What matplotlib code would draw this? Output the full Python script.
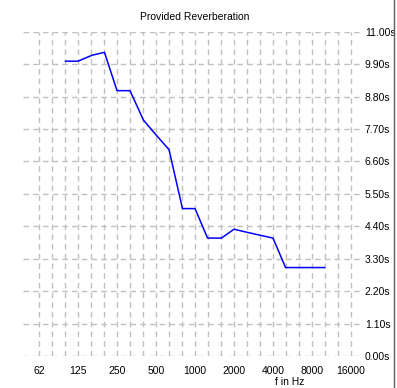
import matplotlib
matplotlib.use("Agg")
import matplotlib.pyplot as plt
from matplotlib.ticker import FixedLocator, FixedFormatter, NullFormatter
from matplotlib.lines import Line2D

# third-octave bands and reverberation time (s)
freqs = [100, 125, 160, 200, 250, 315, 400, 500, 630, 800, 1000, 1250,
         1600, 2000, 2500, 3150, 4000, 5000, 6300, 8000, 10000]
rt60 = [10.0, 10.0, 10.2, 10.3, 9.0, 9.0, 8.0, 7.5, 7.0, 5.0, 5.0, 4.0,
        4.0, 4.3, 4.2, 4.1, 4.0, 3.0, 3.0, 3.0, 3.0]

octave_ticks = [62.5, 125, 250, 500, 1000, 2000, 4000, 8000, 16000]
octave_labels = ["62", "125", "250", "500", "1000", "2000", "4000", "8000", "16000"]
y_ticks = [0.0, 1.1, 2.2, 3.3, 4.4, 5.5, 6.6, 7.7, 8.8, 9.9, 11.0]

plt.rcParams["font.family"] = ["Liberation Sans", "DejaVu Sans"]

W, H = 397, 388
fig = plt.figure(figsize=(W / 100, H / 100), dpi=100)
fig.patch.set_facecolor("white")
ax = fig.add_axes([23 / W, (H - 356) / H, (362 - 23) / W, (356 - 31.7) / H])
ax.set_facecolor("white")

ax.set_xscale("log", base=2)
ax.set_xlim(47.0, 19460)
ax.set_ylim(0, 11.0)

third = [62.5 * 2 ** (k / 3) for k in range(25)]
ax.xaxis.set_major_locator(FixedLocator(octave_ticks))
ax.xaxis.set_major_formatter(FixedFormatter(octave_labels))
ax.xaxis.set_minor_locator(FixedLocator(third))
ax.xaxis.set_minor_formatter(NullFormatter())
ax.set_yticks(y_ticks)
ax.set_yticklabels([f"{v:.2f}s" for v in y_ticks])
ax.yaxis.tick_right()

ax.tick_params(axis="both", which="both", length=0, labelsize=7.5, colors="black")
ax.tick_params(axis="x", pad=7)
ax.tick_params(axis="y", pad=2)

for s in ax.spines.values():
    s.set_visible(False)

grid_kw = dict(color="#c0c0c0", linestyle=(0, (4, 3)), linewidth=1.0)
ax.grid(True, which="minor", axis="x", **grid_kw)
ax.grid(True, which="major", axis="both", **grid_kw)
ax.set_axisbelow(True)

ax.plot(freqs, rt60, color="#0000ff", linewidth=1.1, clip_on=False)

fig.text(195 / W, 1 - 17 / H, "Provided Reverberation", ha="center", va="center", fontsize=7.5)
fig.text(290 / W, 1 - 382 / H, "f in Hz", ha="center", va="center", fontsize=7.5)

fig.add_artist(Line2D([393.5 / W, 393.5 / W], [0, 1], color="#606060", linewidth=1.0))

fig.savefig("out.png", dpi=100)
